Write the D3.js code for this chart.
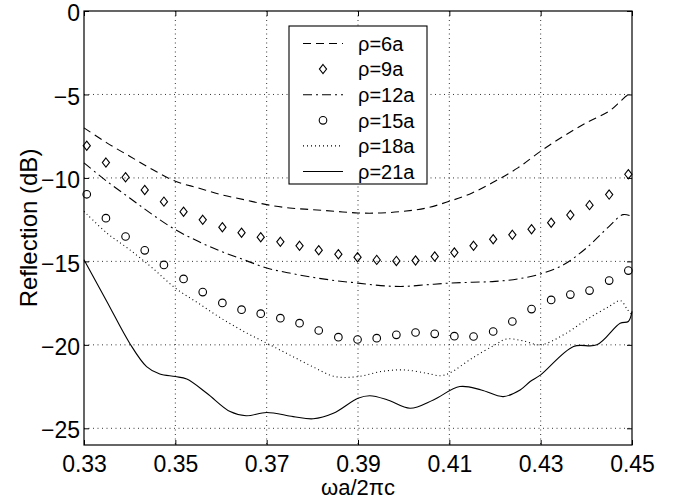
<!DOCTYPE html>
<html>
<head>
<meta charset="utf-8">
<script src="https://cdn.jsdelivr.net/npm/d3@7"></script>
<style>
  html, body { margin: 0; padding: 0; background: #fff; }
  svg { display: block; }
  text { font-family: "Liberation Sans", Arial, Helvetica, sans-serif; fill: #000; }
</style>
</head>
<body>
<script>
const WIDTH = 684;
const HEIGHT = 502;
const margin = { top: 11, right: 52, bottom: 57, left: 84 };

const xTicks = [0.33, 0.35, 0.37, 0.39, 0.41, 0.43, 0.45];
const yTicks = [0, -5, -10, -15, -20, -25];

// rho = 6a, dashed
const rho6 = [
  [0.33, -7.0], [0.335, -7.9], [0.34, -8.7], [0.345, -9.5], [0.35, -10.2],
  [0.355, -10.6], [0.36, -11.0], [0.365, -11.3], [0.37, -11.6], [0.375, -11.8],
  [0.38, -11.9], [0.385, -12.0], [0.39, -12.1], [0.395, -12.1], [0.40, -12.0],
  [0.405, -11.8], [0.41, -11.4], [0.415, -10.9], [0.42, -10.2], [0.425, -9.4],
  [0.43, -8.4], [0.435, -7.5], [0.44, -6.7], [0.445, -6.0], [0.4475, -5.4],
  [0.449, -5.05], [0.45, -5.0]
];

// marker positions shared by rho = 9a and rho = 15a
const markerX = [
  0.3306, 0.3348, 0.3391, 0.3433, 0.3475, 0.3518, 0.3560, 0.3603, 0.3645, 0.3687,
  0.3730, 0.3772, 0.3814, 0.3857, 0.3899, 0.3941, 0.3984, 0.4026, 0.4068, 0.4111,
  0.4153, 0.4196, 0.4238, 0.4280, 0.4323, 0.4365, 0.4407, 0.4450, 0.4492
];
const rho9 = [
  -8.07, -9.08, -9.96, -10.72, -11.42, -12.02, -12.51, -12.95, -13.28, -13.55,
  -13.83, -14.07, -14.33, -14.57, -14.75, -14.91, -14.97, -14.95, -14.71, -14.47,
  -14.07, -13.67, -13.41, -13.07, -12.68, -12.22, -11.63, -11.0, -9.78
];
const rho15 = [
  -10.98, -12.41, -13.51, -14.34, -15.21, -16.05, -16.84, -17.49, -17.89, -18.13,
  -18.4, -18.7, -19.14, -19.54, -19.68, -19.6, -19.4, -19.26, -19.34, -19.48,
  -19.5, -19.2, -18.6, -17.86, -17.31, -16.99, -16.75, -16.15, -15.55
];

// rho = 12a, dash-dot
const rho12 = [
  [0.33, -9.1], [0.335, -10.2], [0.34, -11.2], [0.345, -12.2], [0.35, -13.1],
  [0.355, -13.8], [0.36, -14.4], [0.365, -14.9], [0.37, -15.4], [0.375, -15.7],
  [0.38, -15.95], [0.385, -16.15], [0.39, -16.3], [0.395, -16.45], [0.40, -16.5],
  [0.405, -16.4], [0.41, -16.3], [0.415, -16.25], [0.42, -16.2], [0.425, -16.05],
  [0.43, -15.75], [0.435, -15.2], [0.44, -14.2], [0.445, -12.9], [0.448, -12.2],
  [0.45, -12.3]
];

// rho = 18a, dotted
const rho18 = [
  [0.33, -12.0], [0.335, -13.3], [0.34, -14.3], [0.345, -15.4], [0.35, -16.6],
  [0.355, -17.5], [0.36, -18.4], [0.365, -19.2], [0.37, -19.9], [0.375, -20.6],
  [0.38, -21.3], [0.385, -21.9], [0.39, -21.9], [0.395, -21.6], [0.40, -21.5],
  [0.405, -21.7], [0.408, -21.85], [0.41, -21.7], [0.415, -20.8], [0.42, -20.0],
  [0.4225, -19.65], [0.426, -19.75], [0.43, -20.0], [0.435, -19.4], [0.44, -18.5],
  [0.445, -17.7], [0.4475, -17.35], [0.449, -17.9], [0.45, -18.2]
];

// rho = 21a, solid
const rho21 = [
  [0.33, -14.9], [0.335, -17.4], [0.34, -19.9], [0.3437, -21.3], [0.3466, -21.75],
  [0.35, -21.9], [0.3525, -22.05], [0.3569, -22.9], [0.362, -24.0], [0.3655, -24.25],
  [0.37, -24.05], [0.3758, -24.3], [0.3802, -24.43], [0.3846, -24.1],
  [0.39, -23.2], [0.3926, -23.05], [0.3965, -23.3], [0.4014, -23.8], [0.4065, -23.3],
  [0.4123, -22.5], [0.417, -22.7], [0.4218, -23.1], [0.4255, -22.7], [0.4277, -22.2],
  [0.43, -21.8], [0.4372, -20.1], [0.4423, -20.0], [0.4474, -18.7], [0.4492, -18.6],
  [0.45, -18.0]
];

const legendLabels = ["ρ=6a", "ρ=9a", "ρ=12a", "ρ=15a", "ρ=18a", "ρ=21a"];

const innerW = WIDTH - margin.left - margin.right;
const innerH = HEIGHT - margin.top - margin.bottom;

const svg = d3.select("body").append("svg")
  .attr("width", WIDTH)
  .attr("height", HEIGHT);

const g = svg.append("g").attr("transform", `translate(${margin.left},${margin.top})`);

const x = d3.scaleLinear().domain([0.33, 0.45]).range([0, innerW]);
const y = d3.scaleLinear().domain([-26, 0]).range([innerH, 0]);

// grid
const grid = g.append("g")
  .attr("stroke", "#000")
  .attr("stroke-width", 0.8)
  .attr("stroke-dasharray", "1,3.5");
grid.selectAll(".gx").data(xTicks.slice(1, -1)).join("line")
  .attr("class", "gx")
  .attr("x1", (d) => x(d)).attr("x2", (d) => x(d))
  .attr("y1", 0).attr("y2", innerH);
grid.selectAll(".gy").data(yTicks.slice(1)).join("line")
  .attr("class", "gy")
  .attr("x1", 0).attr("x2", innerW)
  .attr("y1", (d) => y(d)).attr("y2", (d) => y(d));

// axes with inward ticks
const fmtX = d3.format(".2f");
const fmtY = (d) => (d < 0 ? "\u2212" + Math.abs(d) : String(d));

const axBottom = g.append("g").attr("transform", `translate(0,${innerH})`)
  .call(d3.axisBottom(x).tickValues(xTicks).tickFormat(fmtX).tickSizeInner(-5).tickSizeOuter(0).tickPadding(11));
const axLeft = g.append("g")
  .call(d3.axisLeft(y).tickValues(yTicks).tickFormat(fmtY).tickSizeInner(-5).tickSizeOuter(0).tickPadding(4));
const axTop = g.append("g")
  .call(d3.axisTop(x).tickValues(xTicks).tickFormat("").tickSizeInner(-5).tickSizeOuter(0));
const axRight = g.append("g").attr("transform", `translate(${innerW},0)`)
  .call(d3.axisRight(y).tickValues(yTicks).tickFormat("").tickSizeInner(-5).tickSizeOuter(0));

[axBottom, axLeft, axTop, axRight].forEach((ax) => {
  ax.select(".domain").remove();
  ax.selectAll("line").attr("stroke", "#000").attr("stroke-width", 1);
  ax.selectAll("text")
    .attr("fill", "#000")
    .style("font-family", '"Liberation Sans", Arial, Helvetica, sans-serif')
    .style("font-size", "23px");
});
axLeft.selectAll("text").attr("dy", "0.42em");

g.append("rect")
  .attr("width", innerW).attr("height", innerH)
  .attr("fill", "none").attr("stroke", "#000").attr("stroke-width", 1.2);

// curves
const line = d3.line()
  .x((d) => x(d[0]))
  .y((d) => y(d[1]))
  .curve(d3.curveCatmullRom.alpha(0.5));

const lineSeries = [
  { data: rho6, dash: "8,5" },
  { data: rho12, dash: "9,4,2,4" },
  { data: rho18, dash: "1,3" },
  { data: rho21, dash: null }
];

g.append("g").selectAll("path").data(lineSeries).join("path")
  .attr("d", (d) => line(d.data))
  .attr("fill", "none")
  .attr("stroke", "#000")
  .attr("stroke-width", 1.1)
  .attr("stroke-dasharray", (d) => d.dash);

const diamond = "M0,-4.6L3.6,0L0,4.6L-3.6,0Z";

g.append("g").selectAll("path").data(rho9).join("path")
  .attr("transform", (d, i) => `translate(${x(markerX[i])},${y(d)})`)
  .attr("d", diamond)
  .attr("fill", "none")
  .attr("stroke", "#000")
  .attr("stroke-width", 1.1);

g.append("g").selectAll("circle").data(rho15).join("circle")
  .attr("cx", (d, i) => x(markerX[i]))
  .attr("cy", (d) => y(d))
  .attr("r", 3.8)
  .attr("fill", "none")
  .attr("stroke", "#000")
  .attr("stroke-width", 1.1);

// legend
const legend = svg.append("g").attr("transform", "translate(289,26)");
legend.append("rect")
  .attr("width", 138).attr("height", 158)
  .attr("fill", "#fff").attr("stroke", "#000").attr("stroke-width", 1.1);

const rows = legend.selectAll(".row").data(legendLabels).join("g")
  .attr("class", "row")
  .attr("transform", (d, i) => `translate(0,${17.5 + i * 25.6})`);

rows.append("text")
  .attr("x", 69)
  .attr("dy", "0.36em")
  .style("font-size", "20px")
  .text((d) => d);

const legendDash = ["8,5", null, "9,4,2,4", null, "1,3", "none"];
rows.filter((d, i) => [0, 2, 4, 5].includes(i)).append("line")
  .attr("x1", 14).attr("x2", 54)
  .attr("stroke", "#000").attr("stroke-width", 1.1)
  .attr("stroke-dasharray", (d) => legendDash[legendLabels.indexOf(d)]);
rows.filter((d, i) => i === 1).append("path")
  .attr("transform", "translate(34,0)")
  .attr("d", diamond)
  .attr("fill", "none").attr("stroke", "#000").attr("stroke-width", 1.1);
rows.filter((d, i) => i === 3).append("circle")
  .attr("cx", 34).attr("r", 3.8)
  .attr("fill", "none").attr("stroke", "#000").attr("stroke-width", 1.1);

// axis titles
svg.append("text")
  .attr("x", margin.left + innerW / 2)
  .attr("y", 495)
  .attr("text-anchor", "middle")
  .style("font-size", "22px")
  .text("ωa/2πc");

svg.append("text")
  .attr("transform", `translate(37,${margin.top + innerH / 2}) rotate(-90)`)
  .attr("text-anchor", "middle")
  .style("font-size", "24px")
  .text("Reflection (dB)");
</script>
</body>
</html>
